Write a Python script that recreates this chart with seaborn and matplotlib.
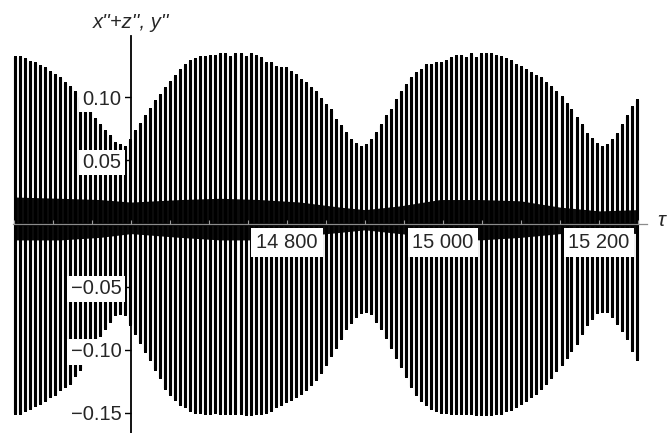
import numpy as np
import pandas as pd
import matplotlib
matplotlib.use("Agg")
import matplotlib.pyplot as plt
import seaborn as sns

# ---- data ----
tau_peaks = [
    14451.0, 14457.4, 14463.9, 14470.3, 14476.7, 14483.2, 14489.6, 14496.0, 14502.4, 14508.9,
    14515.3, 14521.7, 14528.2, 14534.6, 14541.0, 14547.5, 14553.9, 14560.3, 14566.7, 14573.2,
    14579.6, 14586.0, 14592.5, 14598.9, 14605.3, 14611.8, 14618.2, 14624.6, 14631.0, 14637.5,
    14643.9, 14650.3, 14656.8, 14663.2, 14669.6, 14676.1, 14682.5, 14688.9, 14695.3, 14701.8,
    14708.2, 14714.6, 14721.1, 14727.5, 14733.9, 14740.4, 14746.8, 14753.2, 14759.6, 14766.1,
    14772.5, 14778.9, 14785.4, 14791.8, 14798.2, 14804.7, 14811.1, 14817.5, 14823.9, 14830.4,
    14836.8, 14843.2, 14849.7, 14856.1, 14862.5, 14869.0, 14875.4, 14881.8, 14888.2, 14894.7,
    14901.1, 14907.5, 14914.0, 14920.4, 14926.8, 14933.3, 14939.7, 14946.1, 14952.5, 14959.0,
    14965.4, 14971.8, 14978.3, 14984.7, 14991.1, 14997.6, 15004.0, 15010.4, 15016.8, 15023.3,
    15029.7, 15036.1, 15042.6, 15049.0, 15055.4, 15061.9, 15068.3, 15074.7, 15081.1, 15087.6,
    15094.0, 15100.4, 15106.9, 15113.3, 15119.7, 15126.2, 15132.6, 15139.0, 15145.4, 15151.9,
    15158.3, 15164.7, 15171.2, 15177.6, 15184.0, 15190.5, 15196.9, 15203.3, 15209.7, 15216.2,
    15222.6, 15229.0, 15235.5, 15241.9, 15248.3,
]

upper_peaks = [
    0.132, 0.132, 0.130, 0.128, 0.127, 0.125, 0.123, 0.120, 0.118, 0.115,
    0.111, 0.108, 0.104, 0.100, 0.095, 0.089, 0.083, 0.078, 0.073, 0.069,
    0.064, 0.062, 0.061, 0.066, 0.073, 0.079, 0.085, 0.091, 0.097, 0.102,
    0.107, 0.112, 0.117, 0.122, 0.126, 0.129, 0.130, 0.132, 0.132, 0.133,
    0.133, 0.134, 0.134, 0.132, 0.134, 0.134, 0.132, 0.134, 0.133, 0.131,
    0.127, 0.127, 0.124, 0.123, 0.123, 0.120, 0.118, 0.114, 0.111, 0.107,
    0.104, 0.099, 0.094, 0.090, 0.082, 0.077, 0.072, 0.066, 0.063, 0.061,
    0.062, 0.066, 0.072, 0.078, 0.085, 0.090, 0.098, 0.104, 0.110, 0.115,
    0.119, 0.122, 0.126, 0.126, 0.127, 0.127, 0.129, 0.131, 0.133, 0.133,
    0.131, 0.134, 0.131, 0.134, 0.134, 0.134, 0.133, 0.132, 0.130, 0.129,
    0.126, 0.124, 0.122, 0.119, 0.117, 0.115, 0.111, 0.108, 0.104, 0.100,
    0.095, 0.090, 0.084, 0.078, 0.071, 0.067, 0.063, 0.061, 0.062, 0.066,
    0.071, 0.078, 0.085, 0.092, 0.098,
]

lower_peaks = [
    -0.150, -0.150, -0.148, -0.146, -0.144, -0.142, -0.140, -0.137, -0.135, -0.131,
    -0.129, -0.126, -0.120, -0.115, -0.109, -0.103, -0.096, -0.088, -0.083, -0.077,
    -0.072, -0.071, -0.072, -0.080, -0.087, -0.094, -0.101, -0.107, -0.115, -0.122,
    -0.130, -0.135, -0.139, -0.143, -0.145, -0.148, -0.149, -0.149, -0.150, -0.150,
    -0.149, -0.150, -0.150, -0.150, -0.150, -0.150, -0.151, -0.151, -0.150, -0.150,
    -0.149, -0.148, -0.145, -0.143, -0.141, -0.139, -0.137, -0.134, -0.131, -0.127,
    -0.123, -0.118, -0.111, -0.104, -0.098, -0.091, -0.083, -0.078, -0.073, -0.070,
    -0.069, -0.071, -0.077, -0.083, -0.090, -0.098, -0.106, -0.113, -0.121, -0.129,
    -0.135, -0.140, -0.143, -0.146, -0.148, -0.149, -0.149, -0.150, -0.150, -0.150,
    -0.150, -0.150, -0.151, -0.151, -0.151, -0.151, -0.150, -0.150, -0.148, -0.147,
    -0.145, -0.142, -0.140, -0.137, -0.134, -0.130, -0.126, -0.122, -0.116, -0.111,
    -0.106, -0.100, -0.095, -0.087, -0.080, -0.075, -0.070, -0.069, -0.069, -0.073,
    -0.079, -0.084, -0.091, -0.100, -0.107,
]

# y'' : dense small oscillation, drawn as its envelope band
band_tau = [14451, 14509, 14560, 14600, 14663, 14714, 14765, 14817, 14868,
            14900, 14945, 14996, 15047, 15099, 15150, 15201, 15249]
band_hi = [0.021, 0.020, 0.019, 0.017, 0.019, 0.020, 0.019, 0.017, 0.013,
           0.011, 0.014, 0.019, 0.019, 0.018, 0.013, 0.010, 0.011]
band_lo = [-0.013, -0.013, -0.011, -0.008, -0.011, -0.013, -0.013, -0.010, -0.007,
           -0.005, -0.008, -0.011, -0.013, -0.011, -0.008, -0.006, -0.008]

x_ticks = [14800, 15000, 15200]
x_tick_labels = ["14 800", "15 000", "15 200"]
x_minor = [14450, 14500, 14550, 14600, 14650, 14700, 14750, 14850, 14900, 14950,
           15050, 15100, 15150, 15250]
y_ticks = [-0.15, -0.10, -0.05, 0.05, 0.10]
y_tick_labels = ["\u22120.15", "\u22120.10", "\u22120.05", "0.05", "0.10"]

# ---- build the path: each cycle is a narrow pulse (0 -> max -> min -> 0) ----
rows_t, rows_v = [], []
for t, up, lo in zip(tau_peaks, upper_peaks, lower_peaks):
    rows_t += [t, t, t, t]
    rows_v += [0.0, up, lo, 0.0]
df = pd.DataFrame({"tau": rows_t, "value": rows_v})

sns.set_theme(style="white")
plt.rcParams["font.family"] = ["Liberation Sans", "DejaVu Sans"]

W, H = 668, 433
fig = plt.figure(figsize=(W / 100, H / 100), dpi=100)
ax_left, ax_right, ax_top, ax_bottom = 13, 647, 36, 433
ax = fig.add_axes([ax_left / W, 1 - ax_bottom / H,
                   (ax_right - ax_left) / W, (ax_bottom - ax_top) / H])

ax.fill_between(band_tau, band_lo, band_hi, color="#0d0d0d", lw=0, zorder=1.5)
sns.lineplot(data=df, x="tau", y="value", estimator=None, sort=False,
             color="black", lw=2.2, ax=ax, zorder=2)

ax.set_xlim(14448.7, 15261.5)
ax.set_ylim(-0.166, 0.1486)

for s in ["top", "right"]:
    ax.spines[s].set_visible(False)
ax.spines["left"].set_position(("data", 14600))
ax.spines["bottom"].set_position(("data", 0))
ax.spines["left"].set_color("black")
ax.spines["left"].set_linewidth(1.3)
ax.spines["bottom"].set_color("#8c8c8c")
ax.spines["bottom"].set_linewidth(0.9)
ax.spines["bottom"].set_bounds(14448.7, 15261.5)
ax.set_axisbelow(False)

ax.set_xticks(x_ticks, x_tick_labels)
ax.set_xticks(x_minor, minor=True)
ax.set_yticks(y_ticks, y_tick_labels)

ax.tick_params(axis="x", which="both", direction="in", length=3, width=0.8,
               color="#9a9a9a", labelsize=14.5, pad=7, bottom=True)
ax.tick_params(axis="y", which="major", direction="out", length=5, width=1.0,
               color="black", labelsize=14.5, pad=2, left=True)

for lab in ax.get_xticklabels():
    lab.set_bbox(dict(facecolor="white", edgecolor="none", pad=3.5))
for lab in ax.get_yticklabels():
    lab.set_bbox(dict(facecolor="white", edgecolor="none", pad=2.5))

ax.set_ylabel("x''+z'', y''", rotation=0, fontsize=14.5, style="italic",
              ha="center", va="center")
ax.yaxis.set_label_coords((131 - ax_left) / (ax_right - ax_left), 1.035)
ax.set_xlabel("\u03c4", fontsize=15, style="italic", ha="center", va="center")
ax.xaxis.set_label_coords(1.022, 0.535)

fig.savefig("out.png", dpi=100)
